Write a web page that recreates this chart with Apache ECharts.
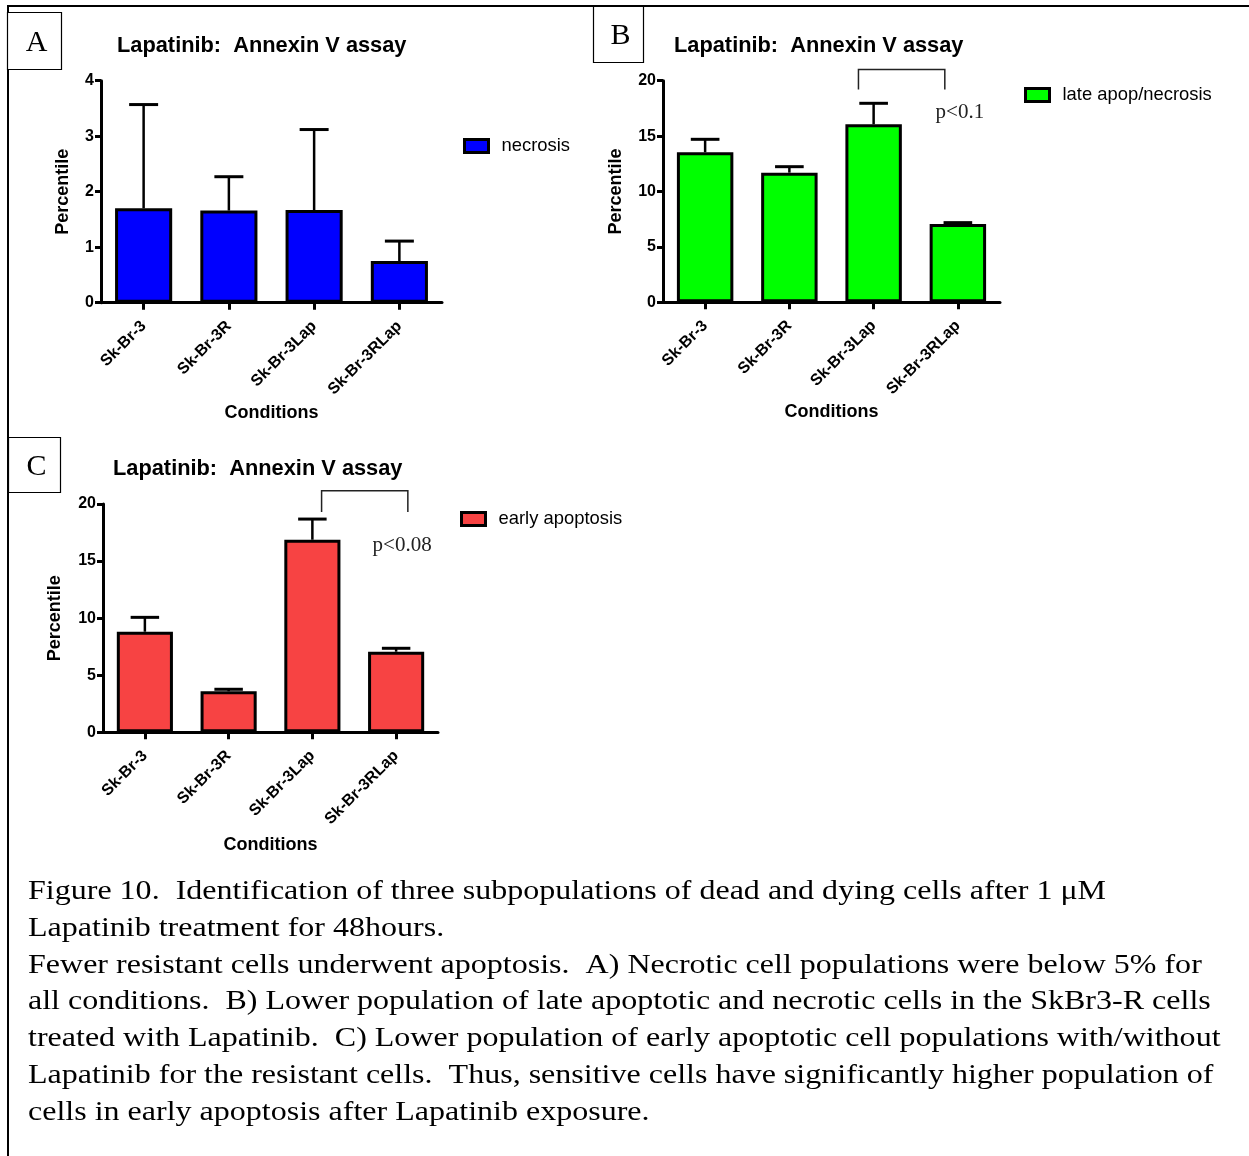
<!DOCTYPE html>
<html><head><meta charset="utf-8">
<script src="https://cdn.jsdelivr.net/npm/echarts@6/dist/echarts.min.js"></script>
<style>html,body{margin:0;padding:0;background:#fff}#c{width:1249px;height:1156px}</style>
</head><body><div id="c"></div>
<script>
// ---------- data ----------
const categories = ['Sk-Br-3', 'Sk-Br-3R', 'Sk-Br-3Lap', 'Sk-Br-3RLap'];
const necrosisMean = [1.70, 1.66, 1.67, 0.75];
const necrosisErr  = [1.87, 0.61, 1.45, 0.36];
const lateMean     = [13.54, 11.70, 16.06, 7.07];
const lateErr      = [1.17, 0.54, 1.90, 0.12];
const earlyMean    = [8.81, 3.59, 16.87, 7.06];
const earlyErr     = [1.26, 0.18, 1.81, 0.30];
const seriesNames  = ['necrosis', 'late apop/necrosis', 'early apoptosis'];
const yMaxA = 4, yStepA = 1;
const yMaxBC = 20, yStepBC = 5;
const bracketB = [2, 3, 21.0, 19.2];   // from cat, to cat, top value, leg bottom value
const bracketC = [2, 3, 21.16, 19.3];
const pTextB = ['p<0.1', 3, 17.1];
const pTextC = ['p<0.08', 3, 16.4];
const titleText = 'Lapatinib:  Annexin V assay';
const xName = 'Conditions';
const yName = 'Percentile';
const panelLetters = ['A', 'B', 'C'];
const captionLines = [
  'Figure 10.  Identification of three subpopulations of dead and dying cells after 1 \u03bcM',
  'Lapatinib treatment for 48hours.',
  'Fewer resistant cells underwent apoptosis.  A) Necrotic cell populations were below 5% for',
  'all conditions.  B) Lower population of late apoptotic and necrotic cells in the SkBr3-R cells',
  'treated with Lapatinib.  C) Lower population of early apoptotic cell populations with/without',
  'Lapatinib for the resistant cells.  Thus, sensitive cells have significantly higher population of',
  'cells in early apoptosis after Lapatinib exposure.'
];

// ---------- layout / style ----------
const SANS = '"Liberation Sans", Arial, sans-serif';
const SERIF = '"Liberation Serif", "Times New Roman", serif';
const panels = [
  { grid: {left: 101, top: 80.7, width: 341, height: 222}, max: yMaxA, step: yStepA, color: '#0000FF',
    mean: necrosisMean, err: necrosisErr, title: {left: 117, top: 35}, legend: {left: 463, top: 137},
    yGap: 29, xGap: 101, bracket: null, ptext: null },
  { grid: {left: 663, top: 80.7, width: 337, height: 221.6}, max: yMaxBC, step: yStepBC, color: '#00FF00',
    mean: lateMean, err: lateErr, title: {left: 674, top: 35}, legend: {left: 1024, top: 86},
    yGap: 38, xGap: 101, bracket: bracketB, bOff: [-0.18, -0.155], ptext: pTextB, pOff: 2 },
  { grid: {left: 103, top: 504, width: 335, height: 228.3}, max: yMaxBC, step: yStepBC, color: '#F74343',
    mean: earlyMean, err: earlyErr, title: {left: 113, top: 458}, legend: {left: 460, top: 510},
    yGap: 39, xGap: 104, bracket: bracketC, bOff: [0.11, 0.14], ptext: pTextC, pOff: 6 }
];

const option = {
  backgroundColor: '#fff',
  animation: false,
  title: [], legend: [], grid: [], xAxis: [], yAxis: [], series: [],
  graphic: []
};

panels.forEach((p, i) => {
  option.title.push({ text: titleText, left: p.title.left, top: p.title.top, padding: 0,
    textStyle: {fontFamily: SANS, fontWeight: 'bold', fontSize: 21.8, color: '#000'} });
  option.grid.push(Object.assign({ outerBoundsMode: 'none', containLabel: false }, p.grid));
  option.xAxis.push({
    type: 'category', gridIndex: i, data: categories, boundaryGap: true,
    name: xName, nameLocation: 'middle', nameGap: p.xGap,
    nameTextStyle: {fontFamily: SANS, fontWeight: 'bold', fontSize: 18, color: '#000'},
    axisLine: {show: true, lineStyle: {color: '#000', width: 3}},
    axisTick: {show: true, alignWithLabel: true, length: 7, lineStyle: {color: '#000', width: 3}},
    axisLabel: {rotate: 45, margin: 21, fontFamily: SANS, fontWeight: 'bold', fontSize: 16, color: '#000', interval: 0},
    splitLine: {show: false}
  });
  option.yAxis.push({
    type: 'value', gridIndex: i, min: 0, max: p.max, interval: p.step,
    name: yName, nameLocation: 'middle', nameGap: p.yGap, nameRotate: 90,
    nameTextStyle: {fontFamily: SANS, fontWeight: 'bold', fontSize: 18, color: '#000'},
    axisLine: {show: true, lineStyle: {color: '#000', width: 3}},
    axisTick: {show: true, length: 6, lineStyle: {color: '#000', width: 3}},
    axisLabel: {margin: 7, fontFamily: SANS, fontWeight: 'bold', fontSize: 16, color: '#000'},
    splitLine: {show: false}
  });
  option.series.push({
    name: seriesNames[i], type: 'bar', xAxisIndex: i, yAxisIndex: i, data: p.mean,
    barWidth: '67%', z: 3,
    itemStyle: {color: p.color, borderColor: '#000', borderWidth: 3}
  });
  option.series.push({
    name: 'err' + i, type: 'custom', xAxisIndex: i, yAxisIndex: i, z: 2,
    data: p.mean.map((m, k) => [k, m, m + p.err[k]]),
    encode: {x: 0, y: [1, 2]},
    renderItem: function (params, api) {
      const x = api.value(0), m = api.value(1), t = api.value(2);
      const p0 = api.coord([x, m]), p1 = api.coord([x, t]);
      const half = api.size([1, 0])[0] * 0.17;
      return {type: 'group', children: [
        {type: 'line', shape: {x1: p0[0], y1: p0[1], x2: p1[0], y2: p1[1]}, style: {stroke: '#000', lineWidth: 2.5}},
        {type: 'line', shape: {x1: p1[0] - half, y1: p1[1], x2: p1[0] + half, y2: p1[1]}, style: {stroke: '#000', lineWidth: 3}}
      ]};
    }
  });
  if (p.bracket) {
    option.series.push({
      name: 'bracket' + i, type: 'custom', xAxisIndex: i, yAxisIndex: i, z: 4, clip: false,
      data: [p.bracket],
      renderItem: function (params, api) {
        const bw = api.size([1, 0])[0];
        const a = api.coord([api.value(0), api.value(2)]);
        const b = api.coord([api.value(1), api.value(2)]);
        const legA = api.coord([api.value(0), api.value(3)]);
        const x1 = a[0] + p.bOff[0] * bw, x2 = b[0] + p.bOff[1] * bw;
        const tp = api.coord([p.ptext[1], p.ptext[2]]);
        return {type: 'group', children: [
          {type: 'polyline', shape: {points: [[x1, legA[1]], [x1, a[1]], [x2, a[1]], [x2, legA[1]]]},
           style: {stroke: '#222', lineWidth: 1.5, fill: null}},
          {type: 'text', x: tp[0] + p.pOff, y: tp[1],
           style: {text: p.ptext[0], font: '21px ' + SERIF, fill: '#222', align: 'center', verticalAlign: 'middle'}}
        ]};
      }
    });
  }
  option.legend.push({
    data: [seriesNames[i]], left: p.legend.left, top: p.legend.top, padding: 0, orient: 'vertical',
    icon: 'rect', itemWidth: 24, itemHeight: 13,
    itemStyle: {borderColor: '#000', borderWidth: 3},
    textStyle: {fontFamily: SANS, fontSize: 18.4, color: '#000', padding: [0, 0, 0, 8]},
    selectedMode: false
  });
});

// panel letter boxes
const boxes = [
  {x: 7.5, y: 12.5, w: 54, h: 57},
  {x: 593.5, y: 6.5, w: 50, h: 56},
  {x: 8.5, y: 437.5, w: 52, h: 55}
];
boxes.forEach((b, i) => {
  option.graphic.push({type: 'rect', shape: {x: b.x, y: b.y, width: b.w, height: b.h},
    style: {fill: '#fff', stroke: '#000', lineWidth: 1.2}, z: 10});
  option.graphic.push({type: 'text', x: b.x + b.w / 2 + 2, y: b.y + b.h / 2 + 2,
    style: {text: panelLetters[i], font: '30px ' + SERIF, fill: '#000', align: 'center', verticalAlign: 'middle'}, z: 11});
});
// outer frame (top and left)
option.graphic.push({type: 'polyline', shape: {points: [[8, 1156], [8, 6], [1249, 6]]},
  style: {stroke: '#000', lineWidth: 2, fill: null}, z: 9});
// caption
captionLines.forEach((t, k) => {
  option.graphic.push({type: 'text', x: 28, y: 892 + k * 36.8, scaleX: 1.186, originX: 0,
    style: {text: t, font: '27px ' + SERIF, fill: '#000', align: 'left', verticalAlign: 'middle'}, z: 10});
});

const chart = echarts.init(document.getElementById('c'), null, {renderer: 'canvas'});
chart.setOption(option);
</script></body></html>
